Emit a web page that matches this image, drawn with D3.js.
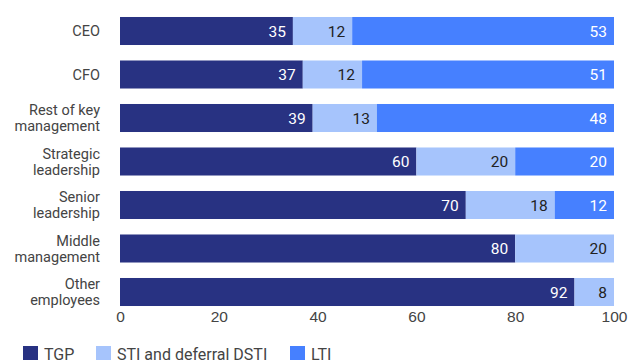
<!DOCTYPE html>
<html>
<head>
<meta charset="utf-8">
<script src="https://cdn.jsdelivr.net/npm/d3@7"></script>
<style>
  body { margin: 0; background: #fff; }
  svg { display: block; font-family: Roboto, "Noto Sans", sans-serif; }
</style>
</head>
<body>
<svg width="630" height="360"></svg>
<script>
// categories, top to bottom
const groups = [
  ["CEO"],
  ["CFO"],
  ["Rest of key", "management"],
  ["Strategic", "leadership"],
  ["Senior", "leadership"],
  ["Middle", "management"],
  ["Other", "employees"]
];
const seriesNames = ["TGP", "STI and deferral DSTI", "LTI"];
const tgp = [35, 37, 39, 60, 70, 80, 92];
const sti = [12, 12, 13, 20, 18, 20, 8];
const lti = [53, 51, 48, 20, 12, 0, 0];
const xTicks = [0, 20, 40, 60, 80, 100];

const colors = ["#283282", "#a6c4fc", "#4680ff"];
const labelColors = ["#fff", "#222", "#fff"];

const svg = d3.select("svg");

const x = d3.scaleLinear().domain([0, 100]).range([120, 614]);
const y = d3.scaleBand()
  .domain(d3.range(groups.length))
  .range([9.25, 313.75])
  .paddingInner(0.356)
  .paddingOuter(0.178);

const rows = groups.map((g, i) => ({ i, TGP: tgp[i], "STI and deferral DSTI": sti[i], LTI: lti[i] }));
const stacked = d3.stack().keys(seriesNames)(rows);

const layer = svg.append("g")
  .selectAll("g")
  .data(stacked)
  .join("g")
  .attr("fill", (d, k) => colors[k]);

layer.selectAll("rect")
  .data(d => d.filter(s => s[1] > s[0]))
  .join("rect")
  .attr("x", d => x(d[0]))
  .attr("width", d => x(d[1]) - x(d[0]))
  .attr("y", d => y(d.data.i))
  .attr("height", y.bandwidth());

// value labels, right aligned inside each segment
stacked.forEach((s, k) => {
  svg.append("g")
    .selectAll("text")
    .data(s.filter(d => d[1] > d[0]))
    .join("text")
    .attr("x", d => x(d[1]) - 7)
    .attr("y", d => y(d.data.i) + y.bandwidth() / 2)
    .attr("dy", "0.36em")
    .attr("text-anchor", "end")
    .attr("font-size", 15.5)
    .attr("fill", labelColors[k])
    .text(d => d[1] - d[0]);
});

// category labels, one text per line
const lineH = 16;
const catLines = groups.flatMap((g, i) =>
  g.map((t, j) => ({ t, i, off: (j - (g.length - 1) / 2) * lineH })));
svg.append("g")
  .selectAll("text")
  .data(catLines)
  .join("text")
  .attr("text-anchor", "end")
  .attr("font-size", 14.5)
  .attr("fill", "#444")
  .attr("x", 100)
  .attr("y", d => y(d.i) + y.bandwidth() / 2 + d.off)
  .attr("dy", "0.36em")
  .text(d => d.t);

// x axis, no line or ticks
const axis = svg.append("g")
  .attr("transform", "translate(0,306)")
  .call(d3.axisBottom(x).tickValues(xTicks).tickSize(0).tickPadding(5));
axis.select(".domain").remove();
axis.selectAll("text")
  .attr("font-size", 15.5)
  .attr("font-family", null)
  .attr("fill", "#444");

// legend
const legendX = [23, 96, 290];
const legend = svg.append("g")
  .selectAll("g")
  .data(seriesNames)
  .join("g")
  .attr("transform", (d, k) => `translate(${legendX[k]},346)`);
legend.append("rect")
  .attr("width", 15)
  .attr("height", 15)
  .attr("fill", (d, k) => colors[k]);
legend.append("text")
  .attr("x", 21)
  .attr("y", 13.5)
  .attr("font-size", 16)
  .attr("fill", "#444")
  .text(d => d);
</script>
</body>
</html>
